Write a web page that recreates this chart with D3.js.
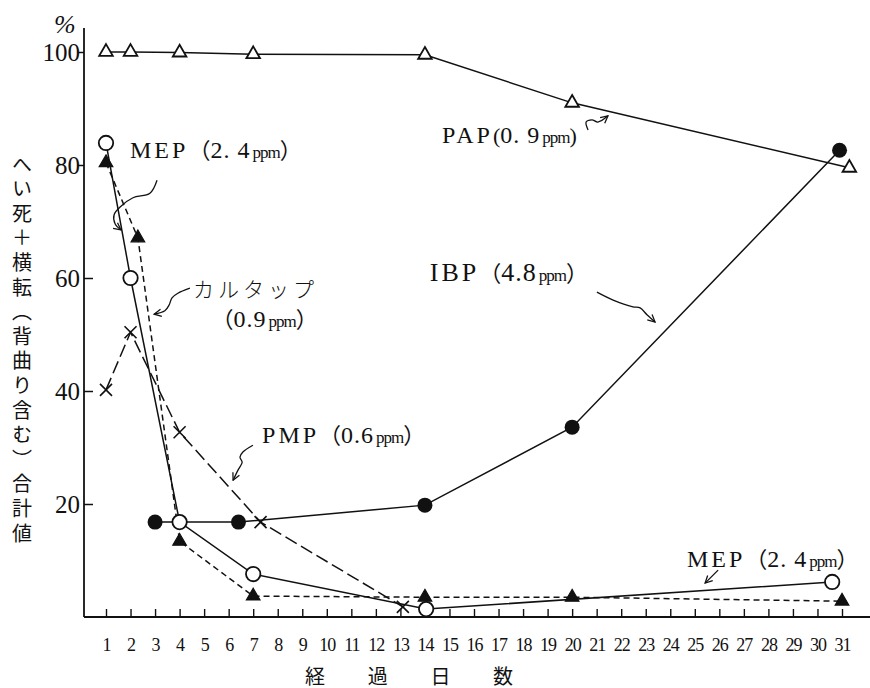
<!DOCTYPE html>
<html>
<head>
<meta charset="utf-8">
<script src="https://cdn.jsdelivr.net/npm/d3@7"></script>
<style>
  body { margin: 0; background: #fff; }
  svg { display: block; }
</style>
</head>
<body>
<svg id="chart" width="870" height="688"></svg>
<script>
// ---- data --------------------------------------------------------------
const dayTicks = d3.range(1, 32);
const valueTicks = [20, 40, 60, 80, 100];

// PAP (0.9 ppm) – open triangles
const papDays = [1, 2, 4, 7, 14, 20, 31.3];
const papVals = [100, 100, 99.9, 99.6, 99.5, 91, 79.5];
// IBP (4.8 ppm) – filled circles
const ibpDays = [3, 6.4, 14, 20, 30.9];
const ibpVals = [16.8, 16.8, 19.8, 33.6, 82.6];
// MEP (2.4 ppm) – open circles
const mepDays = [1, 2, 4, 7, 14.05, 30.6];
const mepVals = [83.9, 60, 16.8, 7.6, 1.4, 6.2];
// カルタップ (0.9 ppm) – filled triangles
const cartapDays = [1, 2.3, 4, 7, 14, 20, 31];
const cartapVals = [80.4, 67.1, 13.4, 3.7, 3.5, 3.5, 2.8];
// PMP (0.6 ppm) – crosses
const pmpDays = [1, 2, 4, 7.3, 13.1];
const pmpVals = [40.2, 50.4, 32.7, 16.8, 1.8];

const yTitle = "へい死＋横転（背曲り含む）合計値";
const xTitle = ["経", "過", "日", "数"];

// ---- layout ------------------------------------------------------------
const svg = d3.select("#chart");
const axisLeftX = 84;
const x = d3.scaleLinear().domain([1, 31]).range([106, 842]);
const y = d3.scaleLinear().domain([0, 100]).range([617, 52]);

const SERIF = "'Liberation Serif', 'DejaVu Serif', serif";
const CJK = "'Noto Sans CJK JP', 'Noto Sans', sans-serif";

// arrowhead for the hand-drawn leader lines
svg.append("defs").append("marker")
  .attr("id", "arrow")
  .attr("viewBox", "0 0 10 10")
  .attr("refX", 9).attr("refY", 5)
  .attr("markerWidth", 9).attr("markerHeight", 9)
  .attr("markerUnits", "userSpaceOnUse")
  .attr("orient", "auto")
  .append("path")
  .attr("d", "M1,1 L9,5 L1,9")
  .attr("fill", "none").attr("stroke", "#111").attr("stroke-width", 1.4);

// ---- axes ------------------------------------------------------------------
const gx = svg.append("g").attr("transform", `translate(0,${y(0)})`)
  .call(d3.axisBottom(x).tickValues(dayTicks).tickSize(-8).tickPadding(21).tickFormat(d3.format("d")));
gx.select(".domain").remove();
gx.selectAll(".tick line").attr("stroke", "#111").attr("stroke-width", 1.4);
gx.selectAll(".tick text").attr("font-family", SERIF).attr("font-size", 18)
  .attr("letter-spacing", -1).attr("fill", "#111");
svg.append("line")
  .attr("x1", axisLeftX).attr("x2", 870)
  .attr("y1", y(0)).attr("y2", y(0))
  .attr("stroke", "#111").attr("stroke-width", 1.8);

const gy = svg.append("g").attr("transform", `translate(${axisLeftX},0)`)
  .call(d3.axisLeft(y).tickValues(valueTicks).tickSize(0).tickPadding(4));
gy.select(".domain").remove();
gy.selectAll(".tick text").attr("font-family", SERIF).attr("font-size", 25).attr("fill", "#111");
gy.selectAll(".tick").append("line")
  .attr("x1", d => d >= 80 ? -6 : 0)
  .attr("x2", d => d >= 80 ? 0 : 9)
  .attr("stroke", "#111").attr("stroke-width", 1.5);
svg.append("line")
  .attr("x1", axisLeftX).attr("x2", axisLeftX)
  .attr("y1", 28).attr("y2", y(0))
  .attr("stroke", "#111").attr("stroke-width", 1.8);

svg.append("text").attr("x", 54).attr("y", 33)
  .attr("font-family", SERIF).attr("font-style", "italic").attr("font-size", 26)
  .attr("fill", "#111").text("%");

// vertical axis title set in vertical writing mode
svg.append("text").attr("x", 22).attr("y", 154)
  .style("writing-mode", "vertical-rl")
  .attr("font-family", CJK).attr("font-size", 20).attr("letter-spacing", 4.6)
  .attr("fill", "#111").text(yTitle);

xTitle.forEach((c, i) => {
  svg.append("text").attr("x", 315 + i * 62.7).attr("y", 675)
    .attr("text-anchor", "middle").attr("dominant-baseline", "central")
    .attr("font-family", CJK).attr("font-size", 20).attr("fill", "#111").text(c);
});

// ---- series lines --------------------------------------------------------
const line = d3.line().x(d => x(d[0])).y(d => y(d[1]));
const zip = (a, b) => a.map((d, i) => [d, b[i]]);

const series = [
  { pts: zip(papDays, papVals), dash: null },
  { pts: zip(ibpDays, ibpVals), dash: null },
  { pts: zip(mepDays, mepVals), dash: null },
  { pts: zip(cartapDays, cartapVals), dash: "6,4" },
  { pts: zip(pmpDays, pmpVals), dash: "13,5" }
];
series.forEach(s => {
  svg.append("path").attr("d", line(s.pts))
    .attr("fill", "none").attr("stroke", "#111").attr("stroke-width", 1.5)
    .attr("stroke-dasharray", s.dash);
});

// ---- markers -----------------------------------------------------------------
const tri = d3.symbol().type(d3.symbolTriangle).size(80);
svg.append("g").selectAll("path").data(zip(papDays, papVals)).join("path")
  .attr("d", tri).attr("transform", d => `translate(${x(d[0])},${y(d[1])})`)
  .attr("fill", "#fff").attr("stroke", "#111").attr("stroke-width", 1.8);
svg.append("g").selectAll("path").data(zip(cartapDays, cartapVals)).join("path")
  .attr("d", tri).attr("transform", d => `translate(${x(d[0])},${y(d[1])})`)
  .attr("fill", "#111").attr("stroke", "#111").attr("stroke-width", 1.2);
svg.append("g").selectAll("circle").data(zip(ibpDays, ibpVals)).join("circle")
  .attr("cx", d => x(d[0])).attr("cy", d => y(d[1])).attr("r", 7.5)
  .attr("fill", "#111");
svg.append("g").selectAll("circle").data(zip(mepDays, mepVals)).join("circle")
  .attr("cx", d => x(d[0])).attr("cy", d => y(d[1])).attr("r", 7.2)
  .attr("fill", "#fff").attr("stroke", "#111").attr("stroke-width", 1.8);
svg.append("g").selectAll("path").data(zip(pmpDays, pmpVals)).join("path")
  .attr("d", "M-6,-6L6,6M-6,6L6,-6")
  .attr("transform", d => `translate(${x(d[0])},${y(d[1])})`)
  .attr("stroke", "#111").attr("stroke-width", 1.6);

// ---- labels ------------------------------------------------------------------
function doseLabel(day, val, name, dose, opts = {}) {
  const t = svg.append("text").attr("x", x(day)).attr("y", y(val))
    .attr("font-family", SERIF).attr("fill", "#111");
  if (name) t.append("tspan").attr("font-size", opts.size || 24)
    .attr("letter-spacing", 3).text(name);
  t.append("tspan").attr("font-family", opts.tightParen ? SERIF : CJK)
    .attr("font-size", 22).text(opts.tightParen ? "(" : "（");
  t.append("tspan").attr("font-size", opts.size || 24).attr("letter-spacing", 1).text(dose);
  t.append("tspan").attr("font-size", 17).attr("letter-spacing", -1).attr("dx", 2).text("ppm");
  t.append("tspan").attr("font-family", opts.tightParen ? SERIF : CJK)
    .attr("font-size", 22).text(opts.tightParen ? ")" : "）");
}

doseLabel(1.98, 81.2, "MEP", "2. 4");
doseLabel(7.36, 30.8, "PMP", "0.6");
doseLabel(14.2, 59.5, "IBP", "4.8", { size: 26 });
doseLabel(14.7, 83.9, "PAP", "0. 9", { tightParen: true });
doseLabel(24.68, 8.85, "MEP", "2. 4");

svg.append("text").attr("x", x(4.55)).attr("y", y(56.6))
  .attr("font-family", CJK).attr("font-size", 21).attr("letter-spacing", 4)
  .attr("font-weight", 300).attr("fill", "#111").text("カルタップ");
doseLabel(5.3, 51.3, null, "0.9");

// ---- leader arrows (in chart units) -------------------------------------------
const leaders = [
  [[3.08, 77.3], [2.79, 75.0], [2.10, 74.2], [1.61, 72.7], [1.33, 71.2], [1.37, 69.6], [1.61, 68.5]],
  [[4.42, 58.2], [3.93, 57.3], [3.69, 56.5], [3.57, 55.2], [3.40, 54.2], [2.96, 53.6]],
  [[6.99, 30.4], [6.58, 29.2], [6.46, 28.3], [6.55, 27.4], [6.38, 26.0], [6.18, 24.2]],
  [[21.01, 57.5], [21.67, 56.1], [22.48, 54.9], [22.77, 54.7], [23.05, 53.5], [23.38, 52.2]],
  [[20.65, 86.2], [20.57, 87.6], [20.81, 88.0], [21.05, 87.6], [21.46, 88.7]],
  [[25.95, 8.3], [25.42, 6.0]]
];
const leaderLine = d3.line().x(d => x(d[0])).y(d => y(d[1])).curve(d3.curveCatmullRom);
leaders.forEach(pts => {
  svg.append("path").attr("d", leaderLine(pts))
    .attr("fill", "none").attr("stroke", "#111").attr("stroke-width", 1.3)
    .attr("marker-end", "url(#arrow)");
});
</script>
</body>
</html>
